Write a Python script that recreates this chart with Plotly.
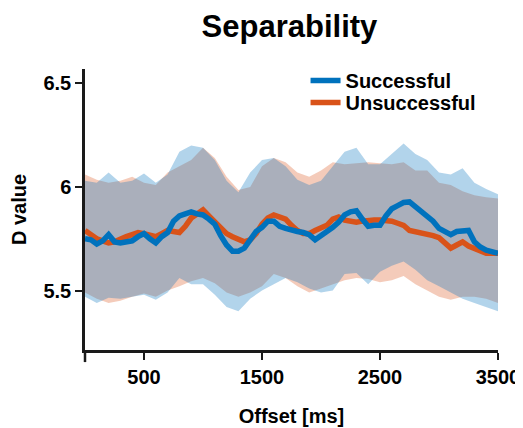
import plotly.graph_objects as go

# ---- data ----
x_line = list(range(0, 3501, 50))
successful_mean = [5.75, 5.745, 5.725, 5.74, 5.77, 5.735, 5.73, 5.735, 5.74, 5.76,
                   5.775, 5.75, 5.73, 5.76, 5.78, 5.835, 5.86, 5.87, 5.88, 5.87,
                   5.865, 5.845, 5.82, 5.765, 5.72, 5.69, 5.69, 5.705, 5.75, 5.785,
                   5.805, 5.835, 5.835, 5.81, 5.80, 5.79, 5.785, 5.78, 5.77, 5.745,
                   5.765, 5.78, 5.805, 5.83, 5.865, 5.88, 5.885, 5.845, 5.81, 5.815,
                   5.815, 5.86, 5.895, 5.91, 5.925, 5.928, 5.905, 5.885, 5.86, 5.835,
                   5.80, 5.785, 5.77, 5.785, 5.79, 5.79, 5.735, 5.71, 5.695, 5.685,
                   5.68]
unsuccessful_mean = [5.79, 5.77, 5.75, 5.74, 5.73, 5.735, 5.75, 5.76, 5.77, 5.78,
                     5.775, 5.765, 5.76, 5.775, 5.79, 5.785, 5.78, 5.81, 5.85, 5.87,
                     5.89, 5.86, 5.83, 5.80, 5.775, 5.76, 5.745, 5.735, 5.745, 5.775,
                     5.82, 5.85, 5.865, 5.855, 5.845, 5.815, 5.79, 5.775, 5.775, 5.79,
                     5.80, 5.815, 5.845, 5.855, 5.84, 5.835, 5.83, 5.835, 5.84, 5.84,
                     5.84, 5.84, 5.835, 5.825, 5.815, 5.79, 5.785, 5.78, 5.775, 5.765,
                     5.755, 5.73, 5.705, 5.72, 5.735, 5.715, 5.705, 5.69, 5.68, 5.68,
                     5.68]

x_band = list(range(0, 3501, 100))
successful_upper = [6.03, 6.02, 6.07, 6.02, 6.03, 6.065, 6.02, 6.06, 6.17, 6.20,
                    6.19, 6.13, 6.03, 5.975, 6.07, 6.13, 6.14, 6.10, 6.035, 6.01,
                    6.03, 6.10, 6.17, 6.19, 6.11, 6.11, 6.16, 6.21, 6.16, 6.13,
                    6.07, 6.06, 6.09, 6.02, 5.99, 5.965]
successful_lower = [5.47, 5.44, 5.465, 5.46, 5.47, 5.48, 5.455, 5.49, 5.56, 5.53,
                    5.53, 5.48, 5.42, 5.40, 5.46, 5.50, 5.53, 5.56, 5.54, 5.51,
                    5.49, 5.50, 5.58, 5.585, 5.53, 5.59, 5.62, 5.64, 5.60, 5.55,
                    5.52, 5.49, 5.46, 5.44, 5.42, 5.40]
unsuccessful_upper = [6.06, 6.035, 6.02, 6.03, 6.05, 6.02, 6.01, 6.07, 6.10, 6.13,
                      6.19, 6.14, 6.05, 5.985, 6.00, 6.10, 6.14, 6.12, 6.07, 6.05,
                      6.08, 6.12, 6.11, 6.115, 6.12, 6.115, 6.11, 6.12, 6.08, 6.08,
                      6.02, 6.01, 5.98, 5.96, 5.95, 5.945]
unsuccessful_lower = [5.49, 5.46, 5.44, 5.45, 5.47, 5.485, 5.47, 5.50, 5.52, 5.545,
                      5.56, 5.535, 5.49, 5.47, 5.49, 5.52, 5.58, 5.56, 5.52, 5.49,
                      5.51, 5.53, 5.55, 5.56, 5.555, 5.54, 5.55, 5.57, 5.53, 5.50,
                      5.47, 5.455, 5.47, 5.47, 5.46, 5.44]

x_ticks = [500, 1500, 2500, 3500]
y_ticks = [5.5, 6, 6.5]
y_ticklabels = ["5.5", "6", "6.5"]

BLUE = "#0072BD"
ORANGE = "#D95319"
BLUE_FILL = "rgba(0,114,189,0.3)"
ORANGE_FILL = "rgba(217,83,25,0.3)"
FONT = "Liberation Sans, Arial, sans-serif"
AX = "#1a1a1a"

fig = go.Figure()

# bands
for up, lo, fc in [(unsuccessful_upper, unsuccessful_lower, ORANGE_FILL),
                   (successful_upper, successful_lower, BLUE_FILL)]:
    fig.add_trace(go.Scatter(x=x_band, y=up, mode="lines", line=dict(width=0),
                             showlegend=False, hoverinfo="skip"))
    fig.add_trace(go.Scatter(x=x_band, y=lo, mode="lines", line=dict(width=0),
                             fill="tonexty", fillcolor=fc,
                             showlegend=False, hoverinfo="skip"))

# mean lines
fig.add_trace(go.Scatter(x=x_line, y=unsuccessful_mean, mode="lines",
                         name="Unsuccessful", legend="legend2",
                         line=dict(color=ORANGE, width=5.5)))
fig.add_trace(go.Scatter(x=x_line, y=successful_mean, mode="lines",
                         name="Successful", legend="legend",
                         line=dict(color=BLUE, width=5.5)))

# y axis extension below the x axis
fig.add_shape(type="line", xref="paper", yref="paper", x0=0, x1=0, y0=0, y1=-0.043,
              line=dict(color=AX, width=2.5))

leg_font = dict(family=FONT, size=20, color="black", weight="bold")
fig.update_layout(
    width=515, height=420,
    margin=dict(l=77, r=25, t=61, b=78, autoexpand=False),
    paper_bgcolor="white", plot_bgcolor="white",
    font=dict(family=FONT, size=20, color="black"),
    title=dict(text="Separability", x=0.5466, xanchor="center", y=0.957, yanchor="middle",
               font=dict(family=FONT, size=31, color="black", weight="bold")),
    showlegend=True,
    legend=dict(x=0.534, xanchor="left", y=1.0285, yanchor="top",
                bgcolor="rgba(0,0,0,0)", font=leg_font, itemwidth=30),
    legend2=dict(x=0.534, xanchor="left", y=0.950, yanchor="top",
                 bgcolor="rgba(0,0,0,0)", font=leg_font, itemwidth=30),
)
fig.update_xaxes(range=[0, 3500], tickvals=x_ticks, ticks="outside", ticklen=7,
                 tickwidth=2, tickcolor=AX, showline=True, linewidth=2.5,
                 linecolor=AX, showgrid=False, zeroline=False, automargin=False,
                 tickfont=dict(family=FONT, size=20, weight="bold"),
                 title=dict(text="Offset [ms]", standoff=23,
                            font=dict(family=FONT, size=20, weight="bold")))
fig.update_yaxes(range=[5.2126, 6.570], tickvals=y_ticks, ticktext=y_ticklabels,
                 ticks="outside", ticklen=7, tickwidth=2, tickcolor=AX,
                 showline=True, linewidth=2.5, linecolor=AX,
                 showgrid=False, zeroline=False, automargin=False,
                 tickfont=dict(family=FONT, size=20, weight="bold"),
                 title=dict(text="D value", standoff=14,
                            font=dict(family=FONT, size=20, weight="bold")))

fig.write_html("out.html")
